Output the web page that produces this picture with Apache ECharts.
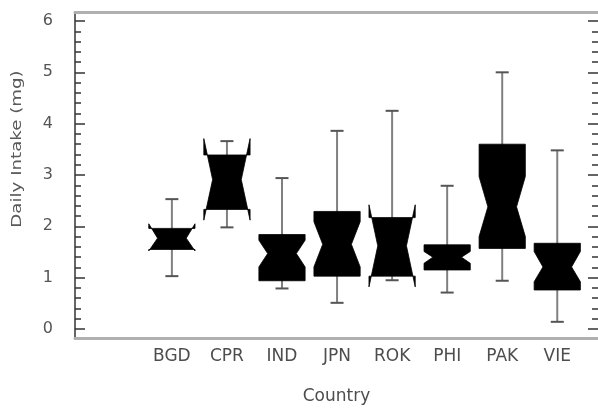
<!DOCTYPE html>
<html><head><meta charset="utf-8">
<script src="https://cdn.jsdelivr.net/npm/echarts@6/dist/echarts.min.js"></script>
<style>html,body{margin:0;padding:0;background:#fff}#c{width:598px;height:410px}</style>
</head><body><div id="c"></div>
<script>
const countries   = ['BGD','CPR','IND','JPN','ROK','PHI','PAK','VIE'];
const whiskerLow  = [1.03, 1.98, 0.79, 0.51, 0.95, 0.71, 0.94, 0.14];
const q1          = [1.55, 2.33, 0.94, 1.03, 1.03, 1.15, 1.57, 0.76];
const median      = [1.77, 2.91, 1.47, 1.65, 1.62, 1.40, 2.38, 1.21];
const q3          = [1.96, 3.39, 1.84, 2.29, 2.17, 1.64, 3.60, 1.67];
const whiskerHigh = [2.53, 3.66, 2.94, 3.86, 4.25, 2.79, 5.00, 3.48];
const notchLow    = [1.52, 2.12, 1.21, 1.21, 0.82, 1.28, 1.80, 0.92];
const notchHigh   = [2.05, 3.71, 1.73, 2.09, 2.42, 1.51, 2.97, 1.51];
const majorTicks  = [0, 1, 2, 3, 4, 5, 6];
const minorStep   = 0.2;

const minorTicks = [];
for (let i = 0; i < majorTicks.length - 1; i++) {
  for (let k = 1; k < 5; k++) minorTicks.push(+(majorTicks[i] + k * minorStep).toFixed(2));
}
const positions = countries.map((c, i) => i + 1);
const data = countries.map((c, i) => [positions[i], whiskerLow[i], q1[i], median[i], q3[i], whiskerHigh[i], notchLow[i], notchHigh[i]]);

const FONT = 'DejaVu Sans';

function renderItem(params, api) {
  const x = api.value(0);
  const py = v => api.coord([x, v])[1];
  const cx = api.coord([x, 0])[0];
  const halfW = api.size([0.84, 0])[0] / 2;
  const notchW = halfW * 0.62;
  const yLo = py(api.value(1)), yQ1 = py(api.value(2)), yMed = py(api.value(3)),
        yQ3 = py(api.value(4)), yHi = py(api.value(5)), yNlo = py(api.value(6)), yNhi = py(api.value(7));
  const capW = 6.5;
  return {
    type: 'group',
    children: [
      {type: 'line', shape: {x1: cx, y1: yHi, x2: cx, y2: yLo}, style: {stroke: '#808080', lineWidth: 2}},
      {type: 'line', shape: {x1: cx - capW, y1: yHi, x2: cx + capW, y2: yHi}, style: {stroke: '#555', lineWidth: 2}},
      {type: 'line', shape: {x1: cx - capW, y1: yLo, x2: cx + capW, y2: yLo}, style: {stroke: '#555', lineWidth: 2}},
      {type: 'polygon', shape: {points: [
        [cx - halfW, yQ1], [cx + halfW, yQ1], [cx + halfW, yNlo], [cx + notchW, yMed],
        [cx + halfW, yNhi], [cx + halfW, yQ3], [cx - halfW, yQ3], [cx - halfW, yNhi],
        [cx - notchW, yMed], [cx - halfW, yNlo]
      ]}, style: {fill: '#000', stroke: '#000', lineWidth: 0.8}}
    ]
  };
}

const yBase = {type: 'value', min: -0.175, max: 6.175, splitLine: {show: false}};
const tickLine = {color: '#333', width: 1.5};

const option = {
  animation: false,
  backgroundColor: '#fff',
  grid: {left: 75, right: 0, top: 12, bottom: 72, containLabel: false, outerBoundsMode: 'none'},
  xAxis: [
    {type: 'value', min: -0.76, max: 8.74, position: 'bottom', splitLine: {show: false},
     axisLine: {show: true, onZero: false, lineStyle: {color: '#b0b0b0', width: 3}},
     axisTick: {show: false},
     axisLabel: {customValues: positions, formatter: v => countries[Math.round(v) - 1] || '',
                 margin: 10, fontSize: 17, color: '#4d4d4d', fontFamily: FONT},
     name: 'Country', nameLocation: 'middle', nameGap: 50,
     nameTextStyle: {fontSize: 17, color: '#4d4d4d', fontFamily: FONT}},
    {type: 'value', min: -0.76, max: 8.74, position: 'top', splitLine: {show: false},
     axisLine: {show: true, onZero: false, lineStyle: {color: '#b0b0b0', width: 3}},
     axisTick: {show: false}, axisLabel: {show: false}}
  ],
  yAxis: [
    Object.assign({}, yBase, {position: 'left',
      axisLine: {show: true, onZero: false, lineStyle: tickLine},
      axisTick: {show: true, inside: true, length: 10, customValues: majorTicks, lineStyle: tickLine},
      axisLabel: {customValues: majorTicks, margin: 22, fontSize: 16, color: '#555', fontFamily: FONT}}),
    Object.assign({}, yBase, {position: 'left',
      axisLine: {show: false, onZero: false},
      axisTick: {show: true, inside: true, length: 6, customValues: minorTicks, lineStyle: tickLine},
      axisLabel: {show: false}}),
    Object.assign({}, yBase, {position: 'right',
      axisLine: {show: false, onZero: false},
      axisTick: {show: true, inside: true, length: 10, customValues: majorTicks, lineStyle: tickLine},
      axisLabel: {show: false}}),
    Object.assign({}, yBase, {position: 'right',
      axisLine: {show: false, onZero: false},
      axisTick: {show: true, inside: true, length: 6, customValues: minorTicks, lineStyle: tickLine},
      axisLabel: {show: false}})
  ],
  graphic: [{
    type: 'text', x: 17, y: 149, rotation: Math.PI / 2, scaleX: 1.3,
    style: {text: 'Daily Intake (mg)', fill: '#5a5a5a', font: '14px "DejaVu Sans"',
            align: 'center', verticalAlign: 'middle', textAlign: 'center', textVerticalAlign: 'middle'}
  }],
  series: [{
    type: 'custom', xAxisIndex: 0, yAxisIndex: 0, renderItem: renderItem,
    encode: {x: 0, y: [1, 2, 3, 4, 5, 6, 7]}, data: data, clip: false
  }]
};

const chart = echarts.init(document.getElementById('c'), null, {renderer: 'canvas'});
chart.setOption(option);
</script>
</body></html>
